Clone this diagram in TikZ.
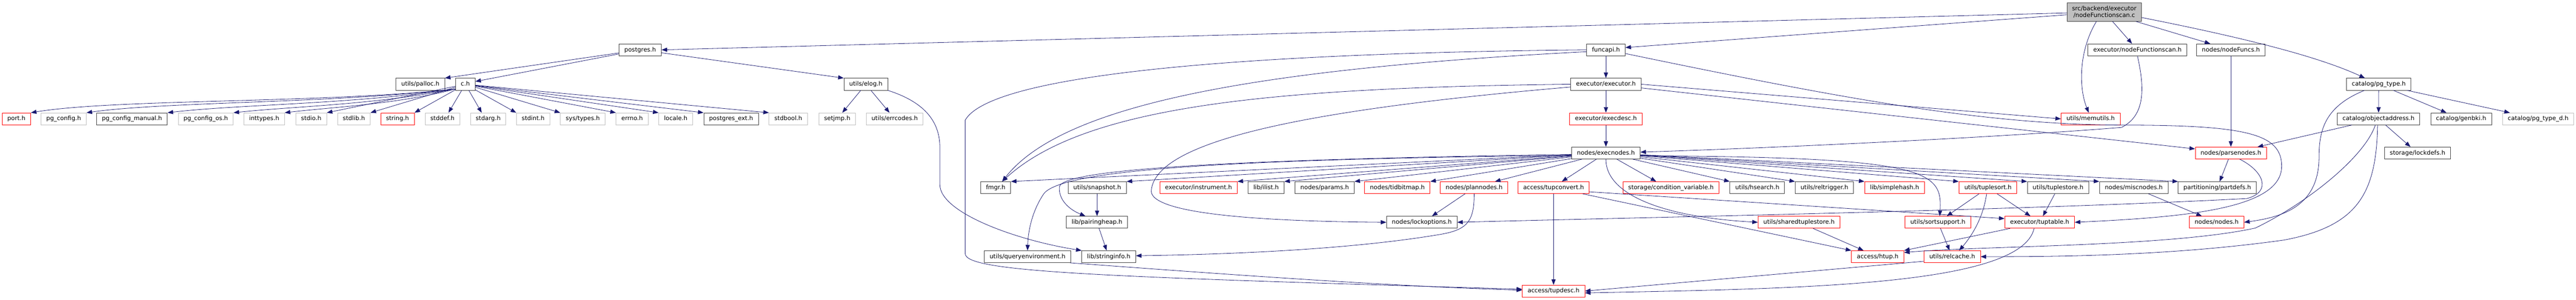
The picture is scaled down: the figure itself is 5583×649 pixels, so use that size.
\documentclass[tikz,border=0pt]{standalone}
\usepackage{fontspec}
\setmainfont{DejaVu Sans}
\usetikzlibrary{arrows.meta}
\definecolor{edgeblue}{RGB}{25,25,112}
\tikzset{
  header_box/.style={fill=white, line width=1pt, inner xsep=11.5pt, inner ysep=0pt,
    minimum height=25.7pt, text height=9.8pt, text depth=2.4pt},
  known_header/.style={header_box, draw=black!75},
  cut_header/.style={header_box, draw=red},
  sys_header/.style={header_box, draw=black!25},
  source_file/.style={draw=black!75, fill=black!25, line width=1pt, align=center,
    inner xsep=11pt, minimum height=40pt},
  includes/.style={draw=edgeblue, line width=0.9pt, -{Triangle[length=12pt,width=9pt]}},
}
\begin{document}
\begin{tikzpicture}
      [x=1pt, y=-1pt, every node/.style={font=\fontsize{13}{15}\selectfont}]
      \useasboundingbox (0,0) rectangle (5583,649);
      % row 0 and 1
      \node (root) [source_file] at (4560.5,26) {src/backend/executor\\/nodeFunctionscan.c};
      \node (postgres) [known_header] at (1387.5,108) {postgres.h};
      \node (funcapi) [known_header] at (3480.5,108) {funcapi.h};
      \node (nfscanh) [known_header] at (4632.5,108) {executor/nodeFunctionscan.h};
      \node (nodefuncs) [known_header] at (4835,108) {nodes/nodeFuncs.h};
      % row 2
      \node (palloc) [known_header] at (911,182.5) {utils/palloc.h};
      \node (ch) [known_header] at (1008.5,182.5) {c.h};
      \node (elog) [known_header] at (1876.5,182.5) {utils/elog.h};
      \node (executor) [known_header] at (3480.5,182.5) {executor/executor.h};
      \node (pgtype) [known_header] at (5155.5,182.5) {catalog/pg\_type.h};
      % row 3
      \node (port) [cut_header] at (35.5,257.5) {port.h};
      \node (pgconfig) [sys_header] at (138,257.5) {pg\_config.h};
      \node (pgconfigmanual) [known_header] at (286,257.5) {pg\_config\_manual.h};
      \node (pgconfigos) [sys_header] at (446,257.5) {pg\_config\_os.h};
      \node (inttypes) [sys_header] at (572.5,257.5) {inttypes.h};
      \node (stdio) [sys_header] at (674.5,257.5) {stdio.h};
      \node (stdlib) [sys_header] at (767,257.5) {stdlib.h};
      \node (string) [cut_header] at (861.5,257.5) {string.h};
      \node (stddef) [sys_header] at (959,257.5) {stddef.h};
      \node (stdarg) [sys_header] at (1058,257.5) {stdarg.h};
      \node (stdint) [sys_header] at (1155.5,257.5) {stdint.h};
      \node (systypes) [sys_header] at (1263,257.5) {sys/types.h};
      \node (errno) [sys_header] at (1370,257.5) {errno.h};
      \node (locale) [sys_header] at (1464.5,257.5) {locale.h};
      \node (postgresext) [known_header] at (1584.5,257.5) {postgres\_ext.h};
      \node (stdbool) [sys_header] at (1708.5,257.5) {stdbool.h};
      \node (setjmp) [sys_header] at (1814.5,257.5) {setjmp.h};
      \node (errcodes) [sys_header] at (1939,257.5) {utils/errcodes.h};
      \node (execdesc) [cut_header] at (3480.5,257.5) {executor/execdesc.h};
      \node (memutils) [cut_header] at (4531,257.5) {utils/memutils.h};
      \node (objaddr) [known_header] at (5155,257.5) {catalog/objectaddress.h};
      \node (genbki) [known_header] at (5334,257.5) {catalog/genbki.h};
      \node (pgtyped) [sys_header] at (5501,257.5) {catalog/pg\_type\_d.h};
      % row 4
      \node (execnodes) [known_header] at (3480.5,331.5) {nodes/execnodes.h};
      \node (parsenodes) [cut_header] at (4835,331.5) {nodes/parsenodes.h};
      \node (lockdefs) [known_header] at (5239.5,331.5) {storage/lockdefs.h};
      % row 5
      \node (fmgr) [known_header] at (2158,406.5) {fmgr.h};
      \node (snapshot) [known_header] at (2378,406.5) {utils/snapshot.h};
      \node (instrument) [cut_header] at (2597.5,406.5) {executor/instrument.h};
      \node (ilist) [known_header] at (2744,406.5) {lib/ilist.h};
      \node (params) [known_header] at (2871,406.5) {nodes/params.h};
      \node (tidbitmap) [cut_header] at (3028.5,406.5) {nodes/tidbitmap.h};
      \node (plannodes) [cut_header] at (3195,406.5) {nodes/plannodes.h};
      \node (tupconvert) [cut_header] at (3367,406.5) {access/tupconvert.h};
      \node (condvar) [cut_header] at (3621.5,406.5) {storage/condition\_variable.h};
      \node (hsearch) [known_header] at (3808.5,406.5) {utils/hsearch.h};
      \node (reltrigger) [known_header] at (3954,406.5) {utils/reltrigger.h};
      \node (simplehash) [cut_header] at (4106,406.5) {lib/simplehash.h};
      \node (tuplesort) [cut_header] at (4308.5,406.5) {utils/tuplesort.h};
      \node (tuplestore) [known_header] at (4460.5,406.5) {utils/tuplestore.h};
      \node (miscnodes) [known_header] at (4624.5,406.5) {nodes/miscnodes.h};
      \node (partdefs) [known_header] at (4805.5,406.5) {partitioning/partdefs.h};
      % row 6
      \node (pairingheap) [known_header] at (2377.5,481.5) {lib/pairingheap.h};
      \node (lockoptions) [known_header] at (3081.5,481.5) {nodes/lockoptions.h};
      \node (sharedts) [cut_header] at (3899,481.5) {utils/sharedtuplestore.h};
      \node (sortsupport) [cut_header] at (4200,481.5) {utils/sortsupport.h};
      \node (tuptable) [cut_header] at (4420.5,481.5) {executor/tuptable.h};
      \node (nodes) [cut_header] at (4804,481.5) {nodes/nodes.h};
      % row 7 and 8
      \node (queryenv) [known_header] at (2227,556) {utils/queryenvironment.h};
      \node (stringinfo) [known_header] at (2403,556) {lib/stringinfo.h};
      \node (htup) [cut_header] at (4069.5,556) {access/htup.h};
      \node (relcache) [cut_header] at (4231,556) {utils/relcache.h};
      \node (tupdesc) [cut_header] at (3367,630.5) {access/tupdesc.h};
      % root
      \draw [includes] (root) -- (postgres.east);
      \draw [includes] (root) -- ([yshift=5pt]funcapi.east);
      \draw [includes] (root) -- (nfscanh);
      \draw [includes] (root) -- (nodefuncs);
      \draw [includes] ([yshift=-12pt]root.east) .. controls (4880,85) and (5030,125) .. ([xshift=-30pt]pgtype.north);
      \draw [includes] ([xshift=-17pt]root.south) .. controls (4505,110) and (4505,190) .. ([xshift=-4pt]memutils.north);
      % postgres.h
      \draw [includes] (postgres) -- (palloc.north east);
      \draw [includes] (postgres) -- ([yshift=6pt]ch.east);
      \draw [includes] (postgres) -- (elog.north west);
      % c.h
      \draw [includes] ([yshift=3pt]ch.south west) .. controls (700,224) and (250,214) .. (port.north east);
      \draw [includes] ([yshift=3pt]ch.south west) .. controls (720,224) and (360,220) .. (pgconfig.north east);
      \draw [includes] ([yshift=3pt]ch.south west) .. controls (760,226) and (520,226) .. (pgconfigmanual.north east);
      \draw [includes] ([yshift=3pt]ch.south west) .. controls (800,228) and (640,230) .. (pgconfigos.north east);
      \draw [includes] ([yshift=3pt]ch.south west) .. controls (860,226) and (720,232) .. (inttypes.north east);
      \draw [includes] (ch) -- (stdio.north east);
      \draw [includes] (ch) -- (stdlib.north east);
      \draw [includes] (ch) -- (string.north east);
      \draw [includes] (ch) -- ([xshift=13pt]stddef.north);
      \draw [includes] (ch) -- ([xshift=-14pt]stdarg.north);
      \draw [includes] (ch) -- (stdint.north west);
      \draw [includes] (ch) -- (systypes.north west);
      \draw [includes] (ch) -- (errno.north west);
      \draw [includes] (ch) -- (locale.north west);
      \draw [includes] (ch) -- (postgresext.north west);
      \draw [includes] (ch) -- (stdbool.north west);
      % utils/elog.h
      \draw [includes] (elog) -- (setjmp);
      \draw [includes] (elog) -- (errcodes);
      \draw [includes] (elog.south east) .. controls (2000,220) and (2037,260) .. (2037,320) -- (2037,400) .. controls (2037,460) and (2200,520) .. (stringinfo.north west);
      % funcapi.h
      \draw [includes] (funcapi) -- (executor);
      \draw [includes] ([yshift=-4pt]funcapi.west) .. controls (2700,150) and (2300,230) .. ([xshift=14pt]fmgr.north);
      \draw [includes] (funcapi.west) .. controls (2700,115) and (2150,160) .. (2092,260) -- (2092,550) .. controls (2094,590) and (2400,600) .. ([yshift=4pt]tupdesc.west);
      \draw [includes] ([yshift=-8pt]funcapi.east) .. controls (4000,215) and (4300,270) .. (4600,271) .. controls (4870,271) and (4945,290) .. (4945,360) .. controls (4945,450) and (4750,470) .. (tuptable.east);
      % executor/executor.h
      \draw [includes] (executor) -- (execdesc);
      \draw [includes] (executor.west) .. controls (2750,190) and (2350,230) .. ([xshift=14pt]fmgr.north);
      \draw [includes] ([yshift=-6pt]executor.west) .. controls (2800,240) and (2500,310) .. (2495,415) .. controls (2500,470) and (2800,480) .. (lockoptions.west);
      \draw [includes] (executor.east) -- (memutils.west);
      \draw [includes] ([yshift=-8pt]executor.east) -- ([yshift=9pt]parsenodes.west);
      \draw [includes] (execdesc) -- (execnodes);
      \draw [includes] (nodefuncs) -- (parsenodes);
      \draw [includes] (nfscanh.south) .. controls (4648,190) and (4650,250) .. (4598,276) .. controls (4300,300) and (3800,322) .. ([yshift=2pt]execnodes.east);
      % catalog
      \draw [includes] (pgtype) -- (objaddr);
      \draw [includes] (pgtype) -- (genbki);
      \draw [includes] (pgtype) -- (pgtyped);
      \draw [includes] ([xshift=-31pt]pgtype.south) .. controls (5040,230) and (5026,280) .. (5026,340) .. controls (5026,445) and (4950,470) .. (nodes.east);
      \draw [includes] (objaddr) -- ([xshift=-20pt]parsenodes.north east);
      \draw [includes] (objaddr) -- (lockdefs);
      \draw [includes] ([xshift=-7pt]objaddr.south) .. controls (5125,340) and (5000,440) .. (4888,494) .. controls (4700,535) and (4300,532) .. ([yshift=9pt]htup.east);
      \draw [includes] ([xshift=-2pt]objaddr.south) .. controls (5150,420) and (5110,490) .. (4950,520) .. controls (4700,555) and (4450,556) .. (relcache.east);
      % nodes/parsenodes.h
      \draw [includes] (parsenodes) -- (partdefs);
      \draw [includes] ([xshift=19pt]parsenodes.south) .. controls (4905,370) and (4925,415) .. (4870,430) .. controls (4400,455) and (3600,470) .. (lockoptions.east);
      % nodes/execnodes.h
      \draw [includes] (execnodes) -- (fmgr.north east);
      \draw [includes] (execnodes) -- (snapshot.north east);
      \draw [includes] (execnodes) -- (instrument.north east);
      \draw [includes] (execnodes) -- (ilist.north east);
      \draw [includes] (execnodes) -- (params.north east);
      \draw [includes] (execnodes) -- (tidbitmap.north east);
      \draw [includes] (execnodes) -- ([xshift=45pt]plannodes.north);
      \draw [includes] (execnodes) -- ([xshift=18pt]tupconvert.north);
      \draw [includes] (execnodes) -- ([xshift=-32pt]condvar.north);
      \draw [includes] (execnodes) -- (hsearch.north west);
      \draw [includes] (execnodes) -- (reltrigger.north west);
      \draw [includes] (execnodes) -- (simplehash.north west);
      \draw [includes] (execnodes) -- (tuplesort.north west);
      \draw [includes] (execnodes) -- (tuplestore.north west);
      \draw [includes] (execnodes) -- (miscnodes.north west);
      \draw [includes] (execnodes) -- (partdefs.north west);
      \draw [includes] ([yshift=-3pt]execnodes.west) .. controls (2700,345) and (2300,365) .. (2296,405) .. controls (2294,435) and (2320,455) .. ([xshift=-25pt]pairingheap.north);
      \draw [includes] ([yshift=-5pt]execnodes.west) .. controls (2650,345) and (2300,368) .. (2262,420) .. controls (2235,460) and (2228,505) .. (queryenv.north);
      \draw [includes] (execnodes.south) .. controls (3480,420) and (3600,470) .. (sharedts.west);
      \draw [includes] ([yshift=-6pt]execnodes.east) .. controls (4180,340) and (4210,370) .. ([xshift=4pt]sortsupport.north);
      % lower rows
      \draw [includes] (tupconvert) -- (tupdesc);
      \draw [includes] (tupconvert) -- (htup.north west);
      \draw [includes] ([yshift=-9pt]tupconvert.east) -- ([yshift=8pt]tuptable.west);
      \draw [includes] (plannodes) -- ([xshift=22pt]lockoptions.north);
      \draw [includes] (plannodes.south) .. controls (3195,480) and (3180,498) .. (3120,508) .. controls (2900,545) and (2600,552) .. ([yshift=2pt]stringinfo.east);
      \draw [includes] (snapshot) -- (pairingheap);
      \draw [includes] (pairingheap) -- (stringinfo);
      \draw [includes] ([xshift=-2pt]queryenv.south east) .. controls (2600,590) and (3000,620) .. ([yshift=2pt]tupdesc.west);
      \draw [includes] (sharedts) -- (htup);
      \draw [includes] (sortsupport) -- (relcache);
      \draw [includes] (tuplesort) -- (sortsupport);
      \draw [includes] (tuplesort) -- (tuptable);
      \draw [includes] ([xshift=-3pt]tuplesort.south) .. controls (4298,475) and (4270,515) .. ([xshift=15pt]relcache.north);
      \draw [includes] (tuplestore) -- (tuptable);
      \draw [includes] (tuptable) -- (htup.north east);
      \draw [includes] ([xshift=-12pt]tuptable.south) .. controls (4380,620) and (3900,625) .. ([yshift=-4pt]tupdesc.east);
      \draw [includes] ([yshift=-10pt]relcache.west) -- (tupdesc.east);
      \draw [includes] (miscnodes) -- (nodes);
\end{tikzpicture}
\end{document}
